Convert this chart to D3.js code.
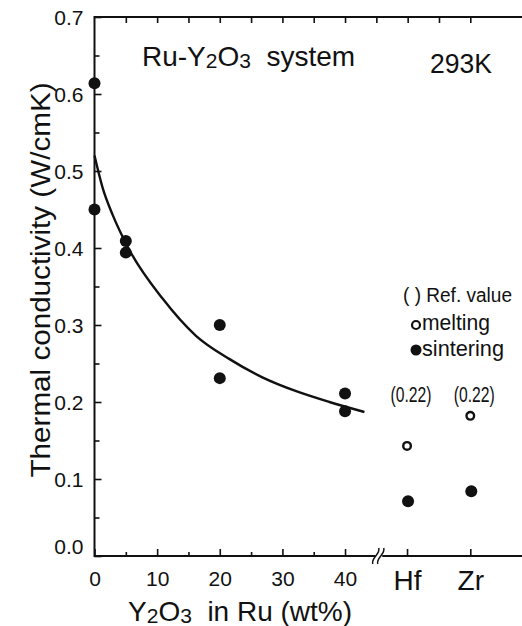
<!DOCTYPE html>
<html>
<head>
<meta charset="utf-8">
<script src="https://cdn.jsdelivr.net/npm/d3@7"></script>
<style>
  body { margin: 0; background: #fff; }
  svg text { font-family: "Liberation Sans", Arial, Helvetica, sans-serif; fill: #111; white-space: pre; }
</style>
</head>
<body>
<div id="chart"></div>
<script>
// sintering data, Ru-Y2O3
var wtPct   = [0, 0, 5, 5, 20, 20, 40, 40];
var kSinter = [0.614, 0.450, 0.409, 0.394, 0.300, 0.231, 0.211, 0.188];

// reference metals
var refCats    = ["Hf", "Zr"];
var refMelting = [0.143, 0.182];
var refSinter  = [0.071, 0.084];
var refValue   = ["(0.22)", "(0.22)"];

// fitted curve
var fitX = [0, 1.3, 2.9, 5.6, 10.9, 16.2, 21.5, 26.8, 32.2, 37.5, 43.1];
var fitY = [0.52, 0.478, 0.443, 0.397, 0.334, 0.286, 0.256, 0.232, 0.214, 0.200, 0.187];

var xTicks = [0, 10, 20, 30, 40];
var xMinor = [5, 15, 25, 35];
var topTicks = [5, 10, 15, 20, 25, 30, 35, 40, 45, 50, 55, 60];
var yTicks = [0, 0.1, 0.2, 0.3, 0.4, 0.5, 0.6, 0.7];
var yMinor = [0.05, 0.15, 0.25, 0.35, 0.45, 0.55, 0.65];

var W = 522, H = 626;
var svg = d3.select("#chart").append("svg")
  .attr("width", W).attr("height", H);

var x = d3.scaleLinear().domain([0, 60]).range([94.5, 470.3]);
var xRef = d3.scalePoint().domain(refCats).range([x(49.9), x(60)]);
var y = d3.scaleLinear().domain([0, 0.7]).range([556, 17]);

var breakAt = x(45.3);

// left axis
var gy = svg.append("g").attr("transform", "translate(" + x(0) + ",0)")
  .call(d3.axisLeft(y).tickValues(yTicks).tickFormat(d3.format(".1f"))
    .tickSize(-7).tickSizeOuter(0).tickPadding(11));
gy.selectAll("text").attr("font-size", 21).attr("dy", "0.36em");
gy.selectAll(".tick").filter(function(d){ return d === 0; }).select("text").attr("dy", "-0.12em");
svg.append("g").attr("transform", "translate(" + x(0) + ",0)")
  .call(d3.axisLeft(y).tickValues(yMinor).tickFormat("").tickSize(-5).tickSizeOuter(0));

// bottom axis
var gx = svg.append("g").attr("transform", "translate(0," + y(0) + ")")
  .call(d3.axisBottom(x).tickValues(xTicks).tickFormat(d3.format("d"))
    .tickSize(-7).tickSizeOuter(0).tickPadding(15));
gx.selectAll("text").attr("font-size", 21);
svg.append("g").attr("transform", "translate(0," + y(0) + ")")
  .call(d3.axisBottom(x).tickValues(xMinor).tickFormat("").tickSize(-4).tickSizeOuter(0));
var gr = svg.append("g").attr("transform", "translate(0," + y(0) + ")")
  .call(d3.axisBottom(xRef).tickSize(-7).tickSizeOuter(0).tickPadding(14));
gr.selectAll("text").attr("font-size", 28);

// top ticks
svg.append("g").attr("transform", "translate(0," + y(0.7) + ")")
  .call(d3.axisTop(x).tickValues(topTicks).tickFormat("").tickSize(-6).tickSizeOuter(0));

svg.selectAll(".domain").remove();
svg.selectAll(".tick line").attr("stroke", "#111").attr("stroke-width", 1.6);

// frame lines
var frame = svg.append("g").attr("stroke", "#111").attr("stroke-width", 2).attr("fill", "none");
frame.append("line").attr("x1", x(0)).attr("x2", x(0)).attr("y1", y(0.7) - 1).attr("y2", y(0) + 1);
frame.append("line").attr("x1", x(0)).attr("x2", W).attr("y1", y(0.7)).attr("y2", y(0.7));
frame.append("line").attr("x1", x(0)).attr("x2", breakAt - 3).attr("y1", y(0)).attr("y2", y(0));
frame.append("line").attr("x1", breakAt + 4).attr("x2", W).attr("y1", y(0)).attr("y2", y(0));
[-2.5, 2.5].forEach(function(o){
  var bx = breakAt + o, by = y(0);
  frame.append("path").attr("stroke-width", 1.5)
    .attr("d", "M" + (bx - 3) + "," + (by + 8) + " C" + (bx - 5) + "," + (by + 2) + " " + (bx + 5) + "," + (by - 2) + " " + (bx + 3) + "," + (by - 8));
});

// fitted curve
var fitPts = fitX.map(function(v, i){ return [v, fitY[i]]; });
svg.append("path").datum(fitPts)
  .attr("fill", "none").attr("stroke", "#111").attr("stroke-width", 2.4)
  .attr("d", d3.line().x(function(d){ return x(d[0]); }).y(function(d){ return y(d[1]); })
    .curve(d3.curveMonotoneX));

// sintering points
svg.append("g").selectAll("circle").data(wtPct).enter().append("circle")
  .attr("cx", function(d){ return x(d); })
  .attr("cy", function(d, i){ return y(kSinter[i]); })
  .attr("r", 6).attr("fill", "#111");

// reference metals
svg.append("g").selectAll("circle").data(refCats).enter().append("circle")
  .attr("cx", function(d){ return xRef(d) + 1; })
  .attr("cy", function(d, i){ return y(refSinter[i]); })
  .attr("r", 6).attr("fill", "#111");
svg.append("g").selectAll("circle").data(refCats).enter().append("circle")
  .attr("cx", function(d){ return xRef(d); })
  .attr("cy", function(d, i){ return y(refMelting[i]); })
  .attr("r", 3.8).attr("fill", "#fff").attr("stroke", "#111").attr("stroke-width", 2.4);
svg.append("g").selectAll("text").data(refCats).enter().append("text")
  .attr("x", function(d){ return xRef(d) + 4; })
  .attr("y", 402)
  .attr("text-anchor", "middle").attr("font-size", 22)
  .attr("textLength", 41).attr("lengthAdjust", "spacingAndGlyphs")
  .text(function(d, i){ return refValue[i]; });

// legend
svg.append("text").attr("x", 403).attr("y", 302).attr("font-size", 20)
  .attr("textLength", 109).attr("lengthAdjust", "spacingAndGlyphs")
  .text("( ) Ref. value");
svg.append("circle").attr("cx", 416).attr("cy", 325).attr("r", 4)
  .attr("fill", "#fff").attr("stroke", "#111").attr("stroke-width", 2.2);
svg.append("text").attr("x", 422).attr("y", 330).attr("font-size", 22)
  .attr("textLength", 68).attr("lengthAdjust", "spacingAndGlyphs").text("melting");
svg.append("circle").attr("cx", 416).attr("cy", 350).attr("r", 5.5).attr("fill", "#111");
svg.append("text").attr("x", 422).attr("y", 356).attr("font-size", 22)
  .attr("textLength", 82).attr("lengthAdjust", "spacingAndGlyphs").text("sintering");

// chemistry labels with subscripts
function chem(t, parts, size){
  parts.forEach(function(p){
    var s = t.append("tspan").text(p[0]);
    if (p[1]) s.attr("font-size", size * 0.75).attr("dy", 2);
    else if (p[2]) s.attr("dy", -2);
  });
}
var title = svg.append("text").attr("x", 142).attr("y", 66).attr("font-size", 28);
chem(title, [["Ru-Y"], ["2", true], ["O", false, true], ["3", true], ["  system", false, true]], 28);
svg.append("text").attr("x", 430).attr("y", 73).attr("font-size", 27)
  .attr("textLength", 62).attr("lengthAdjust", "spacingAndGlyphs").text("293K");

var xt = svg.append("text").attr("x", 128).attr("y", 621).attr("font-size", 28);
chem(xt, [["Y"], ["2", true], ["O", false, true], ["3", true], ["  in Ru (wt%)", false, true]], 28);

svg.append("text")
  .attr("transform", "translate(50,280) rotate(-90)")
  .attr("text-anchor", "middle").attr("font-size", 27)
  .attr("textLength", 395).attr("lengthAdjust", "spacingAndGlyphs")
  .text("Thermal conductivity (W/cmK)");
</script>
</body>
</html>
